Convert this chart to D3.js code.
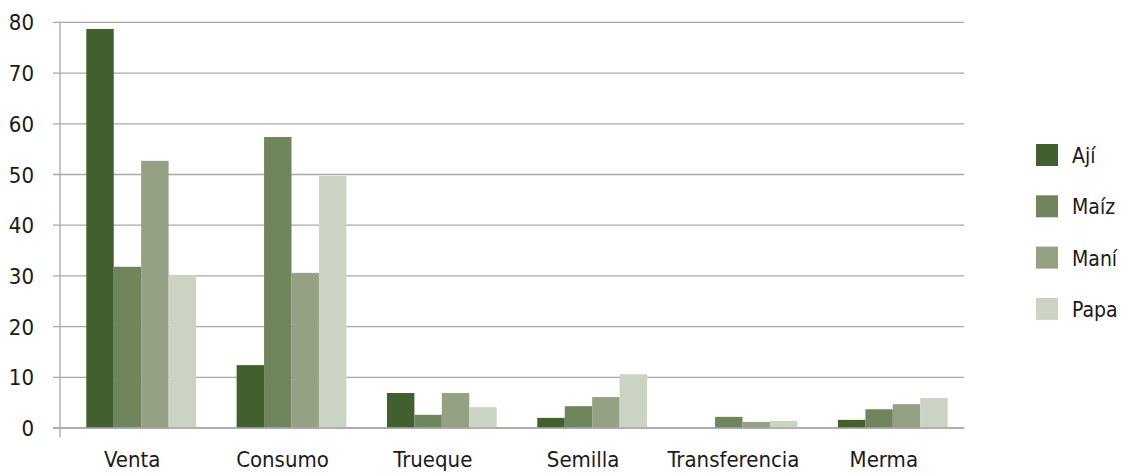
<!DOCTYPE html>
<html>
<head>
<meta charset="utf-8">
<script src="https://cdn.jsdelivr.net/npm/d3@7"></script>
<style>
    body { margin: 0; background: #fff; }
    svg text { font-family: "Liberation Sans Narrow", "DejaVu Sans Condensed", sans-serif; fill: #1a1a1a; }
</style>
</head>
<body>
<svg id="chart" width="1121" height="473"></svg>
<script>
var categories = ["Venta", "Consumo", "Trueque", "Semilla", "Transferencia", "Merma"];
var seriesNames = ["Ají", "Maíz", "Maní", "Papa"];
var aji = [78.7, 12.4, 6.9, 2.0, 0, 1.6];
var maiz = [31.8, 57.4, 2.6, 4.3, 2.2, 3.7];
var mani = [52.7, 30.6, 6.9, 6.1, 1.2, 4.7];
var papa = [30.2, 49.7, 4.1, 10.6, 1.4, 5.9];
var yTicks = [0, 10, 20, 30, 40, 50, 60, 70, 80];

(function() {
    var values = [aji, maiz, mani, papa];
    var colors = ["#425f2e", "#6f865d", "#94a283", "#cbd4c3"];

    var data = categories.map(function(c, i) {
        var row = {category: c};
        seriesNames.forEach(function(s, j) { row[s] = values[j][i]; });
        return row;
    });

    var svg = d3.select("#chart");
    var left = 60, right = 964, top = 22.4, bottom = 428;

    var x0 = d3.scaleBand().domain(categories).range([66, 968]).paddingInner(0.27).paddingOuter(0.135);
    var x1 = d3.scaleBand().domain(seriesNames).range([0, x0.bandwidth()]);
    var y = d3.scaleLinear().domain([0, 80]).range([bottom, top]);
    var z = d3.scaleOrdinal().domain(seriesNames).range(colors);

    // gridlines
    svg.append("g").selectAll("line").data(yTicks).enter().append("line")
        .attr("x1", left - 7).attr("x2", right)
        .attr("y1", function(d) { return y(d); })
        .attr("y2", function(d) { return y(d); })
        .attr("stroke", "#a8a8a8")
        .attr("stroke-width", 1.3);

    // y axis line
    svg.append("line")
        .attr("x1", left).attr("x2", left)
        .attr("y1", top).attr("y2", bottom + 9.5)
        .attr("stroke", "#a8a8a8")
        .attr("stroke-width", 1.3);

    svg.append("g").selectAll("text").data(yTicks).enter().append("text")
        .attr("x", 34)
        .attr("y", function(d) { return y(d) + 8; })
        .attr("text-anchor", "end")
        .attr("font-size", "22px")
        .text(function(d) { return d; });

    // bars
    svg.append("g").selectAll("g").data(data).enter().append("g")
        .attr("transform", function(d) { return "translate(" + x0(d.category) + ",0)"; })
        .selectAll("rect")
        .data(function(d) { return seriesNames.map(function(s) { return {key: s, value: d[s]}; }); })
        .enter().append("rect")
        .attr("x", function(d) { return x1(d.key); })
        .attr("y", function(d) { return y(d.value); })
        .attr("width", x1.bandwidth())
        .attr("height", function(d) { return y(0) - y(d.value); })
        .attr("fill", function(d) { return z(d.key); });

    // redraw baseline over bars
    svg.append("line")
        .attr("x1", left - 7).attr("x2", right)
        .attr("y1", y(0)).attr("y2", y(0))
        .attr("stroke", "#a8a8a8")
        .attr("stroke-width", 1.3);

    svg.append("g").selectAll("text").data(categories).enter().append("text")
        .attr("x", function(d) { return x0(d) + x0.bandwidth() / 2 - 9; })
        .attr("y", 467)
        .attr("text-anchor", "middle")
        .attr("font-size", "22px")
        .text(function(d) { return d; });

    // legend
    var legend = svg.append("g").selectAll("g").data(seriesNames).enter().append("g")
        .attr("transform", function(d, i) { return "translate(1036," + (144 + i * 51.3) + ")"; });

    legend.append("rect")
        .attr("width", 22).attr("height", 22)
        .attr("fill", function(d) { return z(d); });

    legend.append("text")
        .attr("x", 36)
        .attr("y", 19)
        .attr("font-size", "21px")
        .text(function(d) { return d; });
}());
</script>
</body>
</html>
